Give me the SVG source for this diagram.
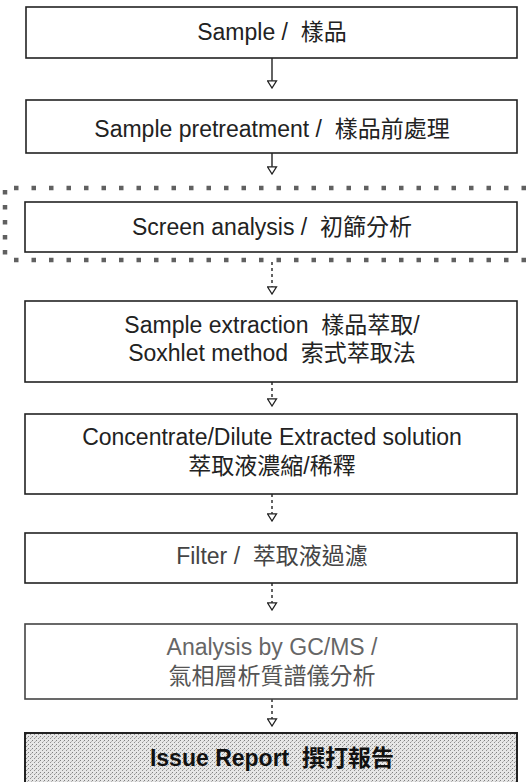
<svg xmlns="http://www.w3.org/2000/svg" width="528" height="782" viewBox="0 0 528 782">
<style>
.box{fill:#fff;stroke:#222;stroke-width:1.6}
.t{font-family:"Liberation Sans","Noto Sans CJK TC",sans-serif;font-size:23px;text-anchor:middle;fill:#222}
.conn{stroke:#222;stroke-width:1.4;fill:none;marker-end:url(#ah)}
.dash{stroke-dasharray:3 3}
.sq{stroke:#606060;stroke-width:4.5;fill:none}
</style>
<defs>
<marker id="ah" viewBox="0 0 10 12" refX="9" refY="6" markerWidth="9" markerHeight="11" markerUnits="userSpaceOnUse" orient="auto">
<path d="M1,1 L9,6 L1,11 Z" fill="#fff" stroke="#222" stroke-width="1.4"/>
</marker>
<pattern id="dots" width="4" height="4" patternUnits="userSpaceOnUse">
<rect width="4" height="4" fill="#e6e6e6"/>
<rect x="0" y="0" width="1" height="1" fill="#808080"/>
<rect x="2" y="2" width="1" height="1" fill="#909090"/>
<rect x="3" y="1" width="1" height="1" fill="#b8b8b8"/>
</pattern>
</defs>
<g id="screen-border">
<line class="sq" x1="14" y1="188" x2="528" y2="188" stroke-dasharray="4.5 13"/>
<line class="sq" x1="14" y1="260" x2="528" y2="260" stroke-dasharray="4.5 13"/>
<line class="sq" x1="5" y1="190" x2="5" y2="258" stroke-dasharray="4.5 10.5"/>
</g>
<g id="connectors">
<line class="conn" x1="272" y1="58" x2="272" y2="88"/>
<line class="conn" x1="272" y1="153" x2="272" y2="174"/>
<line class="conn dash" x1="272" y1="262" x2="272" y2="294"/>
<line class="conn dash" x1="272" y1="382" x2="272" y2="406"/>
<line class="conn dash" x1="272" y1="494" x2="272" y2="521"/>
<line class="conn dash" x1="272" y1="583" x2="272" y2="610"/>
<line class="conn dash" x1="272" y1="699" x2="272" y2="726"/>
</g>
<g id="n1">
<rect class="box" x="26" y="7" width="491" height="51"/>
<text class="t" x="272" y="40">Sample / &#160;樣品</text>
</g>
<g id="n2">
<rect class="box" x="26" y="100" width="491" height="53"/>
<text class="t" x="272" y="137">Sample pretreatment / &#160;樣品前處理</text>
</g>
<g id="n3">
<rect class="box" x="25" y="202" width="492" height="50"/>
<text class="t" x="272" y="235">Screen analysis / &#160;初篩分析</text>
</g>
<g id="n4">
<rect class="box" x="25" y="301" width="492" height="81"/>
<text class="t" x="272" y="333">Sample extraction &#160;樣品萃取/</text>
<text class="t" x="272" y="361">Soxhlet method &#160;索式萃取法</text>
</g>
<g id="n5">
<rect class="box" x="25" y="414" width="492" height="80"/>
<text class="t" x="272" y="445">Concentrate/Dilute Extracted solution</text>
<text class="t" x="272" y="474">萃取液濃縮/稀釋</text>
</g>
<g id="n6">
<rect class="box" x="25" y="533" width="492" height="50"/>
<text class="t" x="272" y="564" style="fill:#444">Filter / &#160;萃取液過濾</text>
</g>
<g id="n7">
<rect class="box" x="25" y="624" width="492" height="75" style="stroke:#444"/>
<text class="t" x="272" y="655" style="fill:#666">Analysis by GC/MS /</text>
<text class="t" x="272" y="684" style="fill:#555">氣相層析質譜儀分析</text>
</g>
<g id="n8">
<rect class="box" x="25" y="733" width="492" height="60" style="fill:url(#dots);stroke-width:2"/>
<text class="t" x="272" y="766" style="fill:#111;font-weight:bold">Issue Report &#160;撰打報告</text>
</g>
</svg>
